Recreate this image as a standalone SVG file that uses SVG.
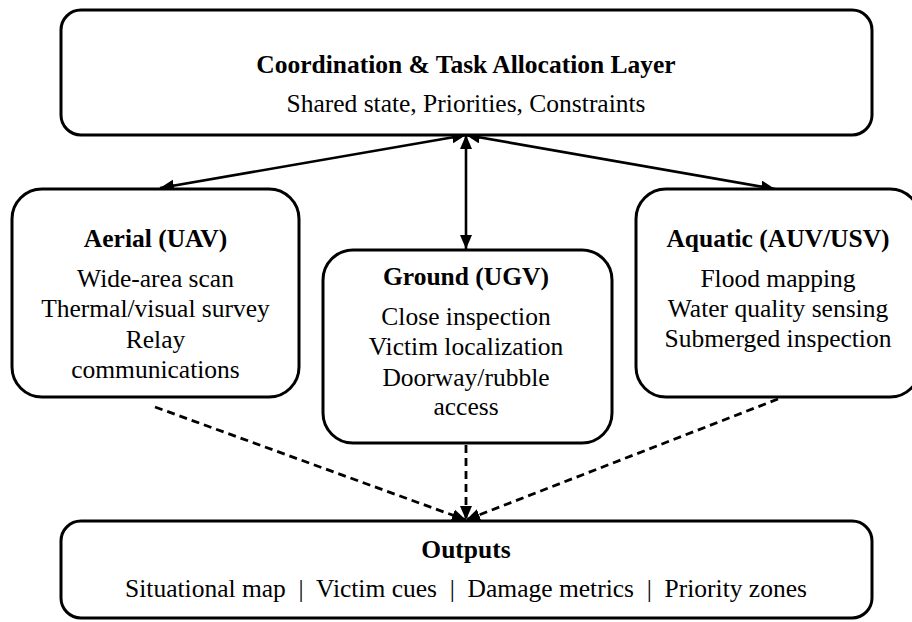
<svg xmlns="http://www.w3.org/2000/svg" width="912" height="622" viewBox="0 0 912 622">
<style>
  .box { fill: #ffffff; stroke: #000000; stroke-width: 3; }
  .t { font-family: 'Liberation Serif', 'Times New Roman', Times, 'DejaVu Serif', serif; font-size: 25.5px; fill: #000000; text-anchor: middle; }
  .title { font-weight: bold; }
  .solid { stroke: #000000; stroke-width: 2.6; fill: none; }
  .dash { stroke: #000000; stroke-width: 2.8; fill: none; stroke-dasharray: 8 5; }
</style>
<defs>
  <marker id="arr" markerUnits="userSpaceOnUse" markerWidth="16" markerHeight="14" refX="14" refY="6" orient="auto-start-reverse" viewBox="0 0 16 14">
    <path d="M0,0 L14,6 L0,12 z" fill="#000000"/>
  </marker>
</defs>
<rect width="912" height="622" fill="#ffffff"/>

<g id="connectors">
  <line class="solid" x1="466" y1="135" x2="160" y2="188" marker-start="url(#arr)" marker-end="url(#arr)"/>
  <line class="solid" x1="466" y1="135" x2="466" y2="249" marker-start="url(#arr)" marker-end="url(#arr)"/>
  <line class="solid" x1="466" y1="135" x2="775" y2="189" marker-start="url(#arr)" marker-end="url(#arr)"/>
  <line class="dash" x1="155" y1="407" x2="466" y2="520" marker-end="url(#arr)"/>
  <line class="dash" x1="466" y1="445" x2="466" y2="520" marker-end="url(#arr)"/>
  <line class="dash" x1="778" y1="399" x2="466" y2="520" marker-end="url(#arr)"/>
</g>

<g id="coordination" class="t" font-family="Liberation Serif, Times New Roman, DejaVu Serif, serif">
  <rect class="box" x="61" y="10" width="811" height="125" rx="20" ry="20"/>
  <text class="title" x="466" y="73">Coordination &amp; Task Allocation Layer</text>
  <text x="466" y="112">Shared state, Priorities, Constraints</text>
</g>

<g id="aerial" class="t" font-family="Liberation Serif, Times New Roman, DejaVu Serif, serif">
  <rect class="box" x="12" y="189" width="287" height="208" rx="30" ry="30"/>
  <text class="title" x="155.5" y="247">Aerial (UAV)</text>
  <text x="155.5" y="287">Wide-area scan</text>
  <text x="155.5" y="317">Thermal/visual survey</text>
  <text x="155.5" y="348">Relay</text>
  <text x="155.5" y="378">communications</text>
</g>

<g id="ground" class="t" font-family="Liberation Serif, Times New Roman, DejaVu Serif, serif">
  <rect class="box" x="323" y="250" width="289" height="193" rx="30" ry="30"/>
  <text class="title" x="466" y="285">Ground (UGV)</text>
  <text x="466" y="325">Close inspection</text>
  <text x="466" y="355">Victim localization</text>
  <text x="466" y="386">Doorway/rubble</text>
  <text x="466" y="415">access</text>
</g>

<g id="aquatic" class="t" font-family="Liberation Serif, Times New Roman, DejaVu Serif, serif">
  <rect class="box" x="636" y="189" width="284" height="208" rx="30" ry="30"/>
  <text class="title" x="778" y="247">Aquatic (AUV/USV)</text>
  <text x="778" y="287">Flood mapping</text>
  <text x="778" y="317">Water quality sensing</text>
  <text x="778" y="347">Submerged inspection</text>
</g>

<g id="outputs" class="t" font-family="Liberation Serif, Times New Roman, DejaVu Serif, serif">
  <rect class="box" x="61" y="521" width="811" height="97" rx="20" ry="20"/>
  <text class="title" x="466" y="558">Outputs</text>
  <text x="466" y="597" xml:space="preserve">Situational map  |  Victim cues  |  Damage metrics  |  Priority zones</text>
</g>
</svg>
